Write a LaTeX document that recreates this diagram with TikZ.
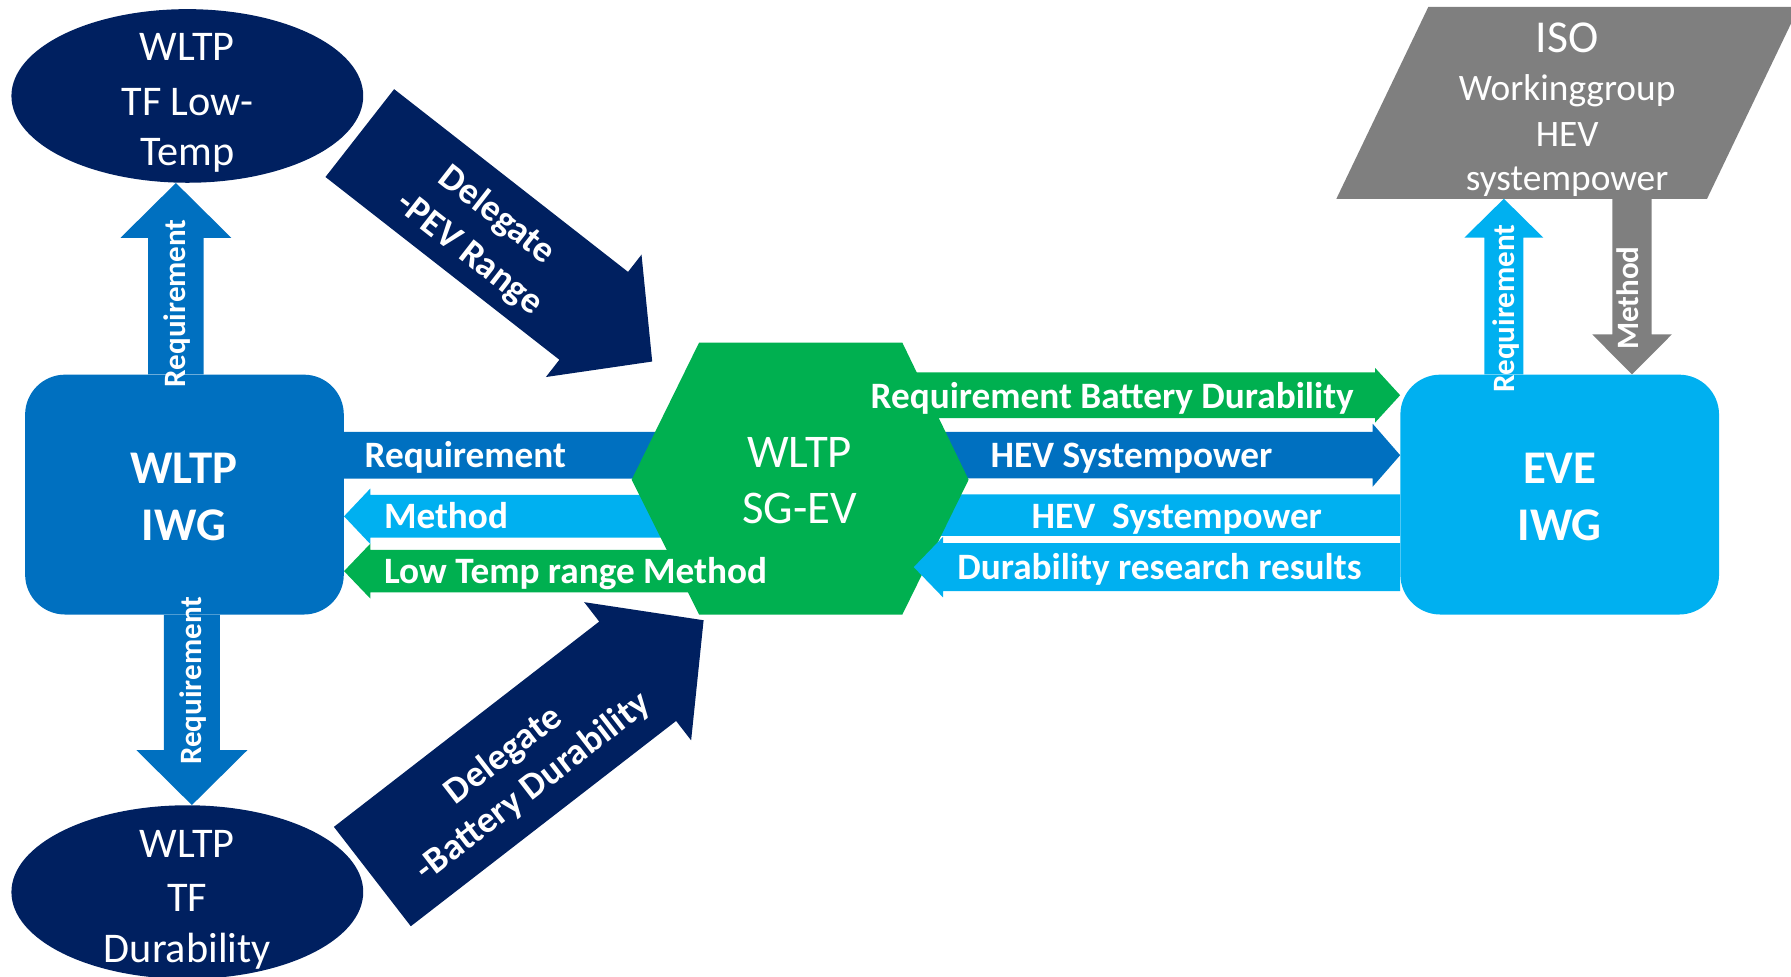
\documentclass[tikz,border=0pt]{standalone}
\usepackage{fontspec}
\setmainfont{Carlito}
\usetikzlibrary{calc,shapes.geometric}
\definecolor{cnavy}{HTML}{002060}
\definecolor{cblue}{HTML}{0070C0}
\definecolor{clblue}{HTML}{00B0F0}
\definecolor{cgreen}{HTML}{00B050}
\definecolor{cgray}{HTML}{7F7F7F}
% block arrow: from, to, shaft width, head width, head length, colour
\newcommand\blockarrow[6]{%
  \path let \p1=(#1), \p2=(#2) in
    \pgfextra{%
      \pgfmathsetmacro\batmpa{atan2(\y2-\y1,\x2-\x1)}%
      \pgfmathsetmacro\batmpl{veclen(\x2-\x1,\y2-\y1)}%
      \xdef\baang{\batmpa}\xdef\balen{\batmpl}};
  \fill[#6, shift={(#1)}, rotate=\baang]
    (0,{-(#3)/2}) -- ({\balen-(#5)},{-(#3)/2}) -- ({\balen-(#5)},{-(#4)/2})
    -- (\balen,0) -- ({\balen-(#5)},{(#4)/2}) -- ({\balen-(#5)},{(#3)/2})
    -- (0,{(#3)/2}) -- cycle;
}
\begin{document}
\begin{tikzpicture}[x=1pt,y=-1pt,
  oval/.style={ellipse, fill=cnavy, inner sep=0pt, minimum width=308pt, minimum height=152pt},
  rbox/.style={rectangle, rounded corners=35pt, inner sep=0pt, minimum width=279pt, minimum height=210pt},
  ln/.style={inner sep=0pt, text=white, text depth=0pt},
  bigreg/.style={ln, text height=23.7pt, font=\fontsize{37}{44}\selectfont},
  sgtxt/.style={ln, text height=26.2pt, font=\fontsize{41}{48}\selectfont},
  bigbold/.style={ln, text height=26.2pt, font=\fontsize{41}{48}\selectfont\bfseries},
  isobig/.style={ln, text height=25.6pt, font=\fontsize{40}{46}\selectfont},
  isotxt/.style={ln, text height=21pt, font=\fontsize{32.7}{38}\selectfont},
  lbl/.style={ln, anchor=west, text height=20.9pt, font=\fontsize{32.6}{38}\selectfont\bfseries},
  dlbl/.style={ln, text height=20.9pt, font=\fontsize{32.6}{38}\selectfont\bfseries},
  vlbl/.style={ln, rotate=90, text height=17.4pt, font=\fontsize{27.2}{32}\selectfont\bfseries}]
\useasboundingbox (0,0) rectangle (1568,855);
\clip (0,0) rectangle (1568,855);

% main shapes
\node[oval] (tflow) at (164,84) {};
\node[oval] (tfdur) at (164,781) {};
\node[rbox, fill=cblue] (iwg) at (161.5,433) {};
\node[rbox, fill=clblue] (eve) at (1365.5,433) {};
\fill[cgray] (1250.5,6) -- (1575,6) -- (1494.5,174) -- (1170,174) -- cycle;
\coordinate (isobot) at (1332,174);
\coordinate (hexc) at (700.5,419);
\coordinate (hexr) at (848,420);

% vertical arrows
\coordinate (r1a) at ($(iwg.north)+(-7.5,0)$);
\coordinate (r1b) at (r1a |- tflow.south);
\blockarrow{r1a}{r1b}{48.6}{97}{48}{cblue}
\coordinate (r2a) at ($(iwg.south)+(6.5,0)$);
\coordinate (r2b) at (r2a |- tfdur.north);
\blockarrow{r2a}{r2b}{49}{97}{48}{cblue}
\coordinate (r3a) at ($(eve.north)+(-48.9,0)$);
\coordinate (r3b) at (r3a |- isobot);
\blockarrow{r3a}{r3b}{34.2}{69}{34}{clblue}
\coordinate (m3b) at ($(eve.north)+(63.3,0)$);
\coordinate (m3a) at (m3b |- isobot);
\blockarrow{m3a}{m3b}{34.4}{69.6}{35}{cgray}

% delegate arrows
\coordinate (d1a) at (315,116.5);
\coordinate (d1b) at (571,316.5);
\blockarrow{d1a}{d1b}{97.6}{136}{65}{cnavy}
\coordinate (d2a) at (326,767.4);
\coordinate (d2b) at (616,543);
\blockarrow{d2a}{d2b}{110}{153}{73}{cnavy}

% horizontal arrows under the hexagon
\coordinate (q1a) at ($(iwg.east)+(0,-34.5)$);
\coordinate (q1b) at (q1a -| hexc);
\blockarrow{q1a}{q1b}{41}{41}{15}{cblue}
\coordinate (me1b) at ($(iwg.east)+(0,19)$);
\coordinate (me1a) at (me1b -| hexc);
\blockarrow{me1a}{me1b}{37.5}{48.6}{23}{clblue}
\coordinate (lt1b) at ($(iwg.east)+(0,67)$);
\coordinate (lt1a) at (lt1b -| hexc);
\blockarrow{lt1a}{lt1b}{37}{48}{23}{cgreen}
\coordinate (b1b) at ($(eve.west)+(0,-87)$);
\coordinate (b1a) at (b1b -| hexc);
\blockarrow{b1a}{b1b}{40}{48}{22}{cgreen}
\coordinate (h1b) at ($(eve.west)+(0,-34.5)$);
\coordinate (h1a) at (h1b -| hexc);
\blockarrow{h1a}{h1b}{40.6}{55}{24}{cblue}
\coordinate (h2a) at ($(eve.west)+(0,18)$);
\coordinate (h2b) at (h2a -| hexc);
\blockarrow{h2a}{h2b}{36.5}{36.5}{10}{clblue}

% hexagon
\fill[cgreen] (612,300) -- (790,300) -- (hexr) -- (790,538) -- (612,538) -- (553,420) -- cycle;

% arrow over the hexagon
\coordinate (du1a) at ($(eve.west)+(0,63.5)$);
\coordinate (du1b) at ($(du1a -| hexr)+(-48,0)$);
\blockarrow{du1a}{du1b}{42}{53}{25.6}{clblue}

% shape texts
\node[bigreg] (tflow1) at (164,41) {WLTP};
\node[bigreg] (tflow2) at (164,89) {TF Low-};
\node[bigreg] (tflow3) at (164,133) {Temp};
\node[bigreg] (tfdur1) at (164,739) {WLTP};
\node[bigreg] (tfdur2) at (164,786) {TF};
\node[bigreg] (tfdur3) at (164,831) {Durability};
\node[bigbold] (iwg1) at (161,410) {WLTP};
\node[bigbold] (iwg2) at (161,460) {IWG};
\node[bigbold] (eve1) at (1365.5,410) {EVE};
\node[bigbold] (eve2) at (1365.5,460) {IWG};
\node[sgtxt] (sg1) at (700,396) {WLTP};
\node[sgtxt] (sg2) at (700,445) {SG-EV};
\node[isobig] (iso1) at (1372,33.5) {ISO};
\node[isotxt] (iso2) at (1372,77.5) {Workinggroup};
\node[isotxt] (iso3) at (1372,117.5) {HEV};
\node[isotxt] (iso4) at (1372,156) {systempower};

% arrow labels
\node[lbl] (tq1) at (319,399) {Requirement};
\node[lbl] (tme) at (336,452) {Method};
\node[lbl] (tlt) at (336,500) {Low Temp range Method};
\node[lbl] (tb1) at (762,347) {Requirement Battery Durability};
\node[lbl] (th1) at (867,399) {HEV Systempower};
\node[lbl] (th2) at (903,452) {HEV\ \ Systempower};
\node[lbl] (tdu) at (838,497) {Durability research results};
\node[vlbl] (tv1) at (154,265.5) {Requirement};
\node[vlbl] (tv2) at (167.5,596) {Requirement};
\node[vlbl] (tv3) at (1317.6,270) {Requirement};
\node[vlbl] (tv4) at (1426,261) {Method};
\node[dlbl, rotate=-38] (td1) at (436,187) {Delegate};
\node[dlbl, rotate=-38] (td2) at (412,221) {-PEV Range};
\node[dlbl, rotate=37.7] (td3) at (440,660) {Delegate};
\node[dlbl, rotate=37.7] (td4) at (466,688) {-Battery Durability};
\end{tikzpicture}
\end{document}
